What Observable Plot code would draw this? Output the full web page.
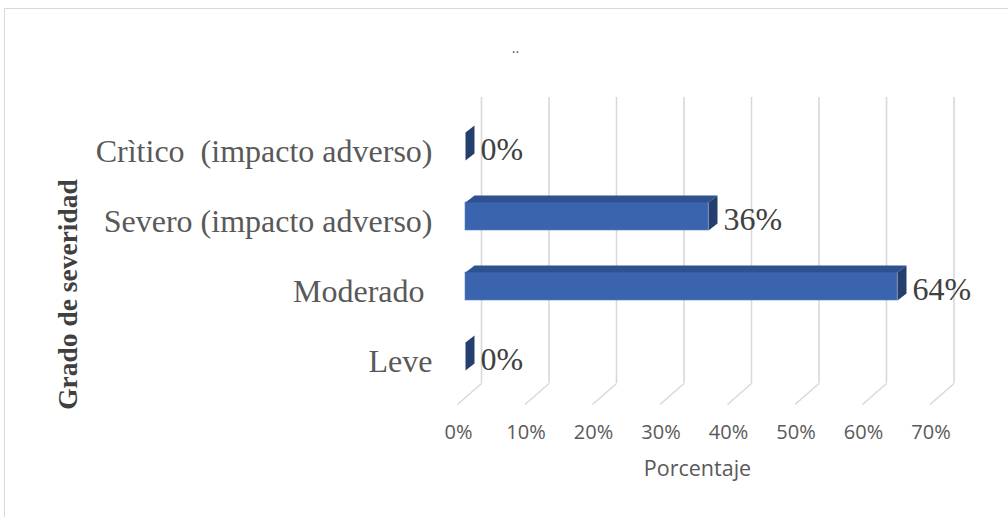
<!DOCTYPE html>
<html>
<head>
<meta charset="utf-8">
<script src="https://cdn.jsdelivr.net/npm/d3@7"></script>
<script src="https://cdn.jsdelivr.net/npm/@observablehq/plot@0.6"></script>
<style>
  html, body { margin: 0; padding: 0; background: #fff; overflow: hidden; }
  #wrap { position: relative; width: 1008px; height: 517px; }
  #box { position: absolute; left: 4px; top: 8px; width: 1020px; height: 530px; border: 1.5px solid #d9d9d9; box-sizing: border-box; }
  #chart { position: absolute; left: 0; top: 0; }
</style>
</head>
<body>
<div id="wrap"><div id="box"></div><div id="chart"></div></div>
<script>
// ---- data ----
const categories = ["Crìtico \u00a0(impacto adverso)", "Severo (impacto adverso)", "Moderado\u00a0", "Leve"];
const values = [0, 36, 64, 0];
const valueLabels = ["0%", "36%", "64%", "0%"];
const xTicks = [0, 10, 20, 30, 40, 50, 60, 70];
const titleText = "..";
const xTitle = "Porcentaje";
const yTitle = "Grado de severidad";

// ---- layout helpers (pixel -> data) ----
const W = 1008, H = 517;
const K = 6.75;           // px per percent
const ROW = 70;           // px per category
const mLeft = 465, mTop = 146;
const mRight = W - (mLeft + 70 * K);
const mBottom = H - (mTop + 3 * ROW);
const px2x = p => p / K;
const yAt = py => (py - mTop) / ROW;   // screen y -> category units
const half = 14 / ROW;                 // half height of front face
const DX = px2x(9), DY = 7 / ROW;      // 3D depth offsets

const rows = categories.map((c, i) => ({i, c, v: values[i], label: valueLabels[i]}));

const topFaces = [], sideFaces = [];
rows.forEach(r => {
  const t = r.i - half, b = r.i + half;
  [[0, t], [r.v, t], [r.v + DX, t - DY], [DX, t - DY]].forEach(([x, y]) => topFaces.push({id: r.i, x, y}));
  [[r.v, t], [r.v + DX, t - DY], [r.v + DX, b - DY], [r.v, b]].forEach(([x, y]) => sideFaces.push({id: r.i, x, y}));
});

const grid = "#d9d9d9";
const chart = Plot.plot({
  width: W, height: H,
  marginLeft: mLeft, marginRight: mRight, marginTop: mTop, marginBottom: mBottom,
  style: {background: "transparent", fontFamily: "Liberation Serif", overflow: "visible"},
  x: {domain: [0, 70]},
  y: {domain: [0, 3], reverse: true},
  marks: [
    Plot.ruleX(xTicks, {x: d => d, y1: () => yAt(97), y2: () => yAt(383), dx: 16, stroke: grid, strokeWidth: 1.6}),
    Plot.link(xTicks, {x1: d => d + px2x(16), y1: () => yAt(383), x2: d => d - px2x(8), y2: () => yAt(404), stroke: grid, strokeWidth: 1.6}),
    Plot.rectX(rows, {x1: 0, x2: "v", y1: d => d.i - half, y2: d => d.i + half, fill: "#3a64ae", stroke: "#5a7fc0", strokeWidth: 0.6, inset: 0}),
    Plot.line(topFaces, {x: "x", y: "y", z: "id", fill: "#2e5190", stroke: "none"}),
    Plot.line(sideFaces, {x: "x", y: "y", z: "id", fill: "#243f6e", stroke: "none"}),
    Plot.text(rows, {x: "v", y: "i", text: "label", dx: 15, dy: 3, textAnchor: "start", fontSize: 32, fontFamily: "Liberation Serif", fill: "#404040"}),
    Plot.axisX({ticks: xTicks, tickSize: 0, tickPadding: 0, dx: -7, dy: 68, tickFormat: d => d + "%", fontSize: 20, fontFamily: "Open Sans", color: "#595959", label: null}),
    Plot.axisY({ticks: [0, 1, 2, 3], tickSize: 0, tickPadding: 33, dy: 5, tickFormat: i => categories[i], fontSize: 32, fontFamily: "Liberation Serif", color: "#595959", label: null}),
    Plot.text([xTitle], {frameAnchor: "bottom-left", textAnchor: "middle", lineAnchor: "middle", dx: 697 - mLeft, dy: 469 - (H - mBottom), fontSize: 21.5, fontFamily: "Open Sans", fill: "#595959"}),
    Plot.text([yTitle], {frameAnchor: "left", textAnchor: "middle", lineAnchor: "middle", dx: 68 - mLeft, dy: 294 - (mTop + 1.5 * ROW), rotate: -90, fontSize: 27.5, fontWeight: "bold", fontFamily: "Liberation Serif", fill: "#404040"}),
    Plot.text([titleText], {frameAnchor: "top-left", textAnchor: "middle", lineAnchor: "middle", dx: 515 - mLeft, dy: 48 - mTop, fontSize: 14, fontFamily: "Open Sans", fill: "#595959"})
  ]
});
document.getElementById("chart").appendChild(chart);
</script>
</body>
</html>
